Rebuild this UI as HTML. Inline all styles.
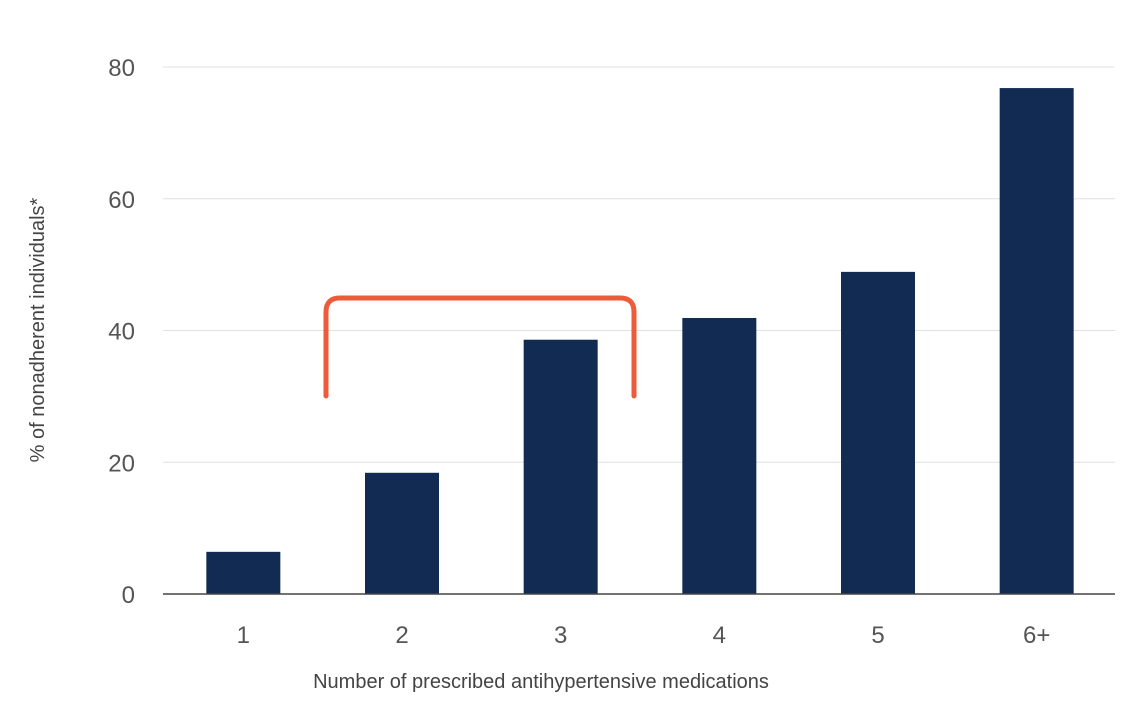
<!DOCTYPE html>
<html><head><meta charset="utf-8"><style>
html,body{margin:0;padding:0;background:#fff;}
svg{display:block;font-family:"Liberation Sans",Arial,sans-serif;}
</style></head><body>
<svg id="chart" width="1136" height="714">
<g id="grid"></g>
<g id="yticks"></g>
<g id="bars"></g>
<g id="xticks"></g>
<line x1="163" y1="594" x2="1115" y2="594" stroke="#444" stroke-width="1.5"/>
<path d="M326,396 L326,312 Q326,298 340,298 L620,298 Q634,298 634,312 L634,396" fill="none" stroke="#ef5a3b" stroke-width="5" stroke-linecap="round"/>
<text x="541" y="688" font-size="20" fill="#444" text-anchor="middle">Number of prescribed antihypertensive medications</text>
<text transform="translate(44,330) rotate(-90)" font-size="20" fill="#444" text-anchor="middle">% of nonadherent individuals*</text>
</svg>
<script>
const categories = ["1","2","3","4","5","6+"];
const values = [6.4, 18.4, 38.6, 41.9, 48.9, 76.8];
const yTicks = [0, 20, 40, 60, 80];
const NS = "http://www.w3.org/2000/svg";
const plotL = 163, plotR = 1115, y0 = 594, y80 = 67;
function yScale(v){ return y0 - (v/80)*(y0-y80); }
const band = (plotR-plotL)/categories.length;
function xCenter(i){ return plotL + band*(i+0.5) + 1; }
const barW = 74;
function mk(tag, attrs){ const e=document.createElementNS(NS,tag); for(const k in attrs) e.setAttribute(k,attrs[k]); return e; }
const grid=document.getElementById('grid'), yt=document.getElementById('yticks'), bars=document.getElementById('bars'), xt=document.getElementById('xticks');
yTicks.forEach(t=>{
  const y=yScale(t);
  if(t>0){
    const l=mk('line',{x1:plotL,x2:plotR,y1:y,y2:y,stroke:'#e0e0e0','stroke-width':1});
    
    
    grid.appendChild(l);
  }
  const tx=mk('text',{x:135,y:y+9,'font-size':24,fill:'#555','text-anchor':'end'});
  tx.textContent=t;
  
  
  yt.appendChild(tx);
});
categories.forEach((c,i)=>{
  const cx=xCenter(i), y=yScale(values[i]);
  const r=mk('rect',{x:cx-barW/2,y:y,width:barW,height:y0-y,fill:'#122b52'});
  
  
  bars.appendChild(r);
  const tx=mk('text',{x:cx,y:643,'font-size':24,fill:'#555','text-anchor':'middle'});
  tx.textContent=c;
  
  
  xt.appendChild(tx);
});
</script>
</body></html>
